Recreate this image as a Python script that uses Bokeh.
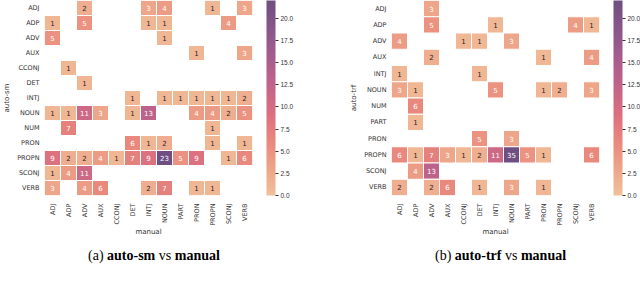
import numpy as np
from bokeh.plotting import figure
from bokeh.models import (ColumnDataSource, FactorRange, LinearColorMapper, ColorBar,
                          FixedTicker, PrintfTickFormatter, Div)
from bokeh.layouts import row, column
from bokeh.core.properties import value
from bokeh.embed import file_html
from bokeh.resources import INLINE

# ---------------- data ----------------
manual_tags = ["ADJ", "ADP", "ADV", "AUX", "CCONJ", "DET", "INTJ", "NOUN",
               "PART", "PRON", "PROPN", "SCONJ", "VERB"]

sm_rows = ["ADJ", "ADP", "ADV", "AUX", "CCONJ", "DET", "INTJ", "NOUN",
           "NUM", "PRON", "PROPN", "SCONJ", "VERB"]
sm_counts = [
    [0, 0, 2, 0, 0, 0, 3, 4, 0, 0, 1, 0, 3],
    [1, 0, 5, 0, 0, 0, 1, 1, 0, 0, 0, 4, 0],
    [5, 0, 0, 0, 0, 0, 0, 1, 0, 0, 0, 0, 0],
    [0, 0, 0, 0, 0, 0, 0, 0, 0, 1, 0, 0, 3],
    [0, 1, 0, 0, 0, 0, 0, 0, 0, 0, 0, 0, 0],
    [0, 0, 1, 0, 0, 0, 0, 0, 0, 0, 0, 0, 0],
    [0, 0, 0, 0, 0, 1, 0, 1, 1, 1, 1, 1, 2],
    [1, 1, 11, 3, 0, 1, 13, 0, 0, 4, 4, 2, 5],
    [0, 7, 0, 0, 0, 0, 0, 0, 0, 0, 1, 0, 0],
    [0, 0, 0, 0, 0, 6, 1, 2, 0, 0, 1, 0, 1],
    [9, 2, 2, 4, 1, 7, 9, 23, 5, 9, 0, 1, 6],
    [1, 4, 11, 0, 0, 0, 0, 0, 0, 0, 0, 0, 0],
    [3, 0, 4, 6, 0, 0, 2, 7, 0, 1, 1, 0, 0],
]

trf_rows = ["ADJ", "ADP", "ADV", "AUX", "INTJ", "NOUN", "NUM", "PART",
            "PRON", "PROPN", "SCONJ", "VERB"]
trf_counts = [
    [0, 0, 3, 0, 0, 0, 0, 0, 0, 0, 0, 0, 0],
    [0, 0, 5, 0, 0, 0, 1, 0, 0, 0, 0, 4, 1],
    [4, 0, 0, 0, 1, 1, 0, 3, 0, 0, 0, 0, 0],
    [0, 0, 2, 0, 0, 0, 0, 0, 0, 1, 0, 0, 4],
    [1, 0, 0, 0, 0, 1, 0, 0, 0, 0, 0, 0, 0],
    [3, 1, 0, 0, 0, 0, 5, 0, 0, 1, 2, 0, 3],
    [0, 6, 0, 0, 0, 0, 0, 0, 0, 0, 0, 0, 0],
    [0, 1, 0, 0, 0, 0, 0, 0, 0, 0, 0, 0, 0],
    [0, 0, 0, 0, 0, 5, 0, 3, 0, 0, 0, 0, 0],
    [6, 1, 7, 3, 1, 2, 11, 35, 5, 1, 0, 0, 6],
    [0, 4, 13, 0, 0, 0, 0, 0, 0, 0, 0, 0, 0],
    [2, 0, 2, 6, 0, 1, 0, 3, 0, 1, 0, 0, 0],
]

colorbar_ticks = [0.0, 2.5, 5.0, 7.5, 10.0, 12.5, 15.0, 17.5, 20.0]
vmax = 22.0

# ---------------- palette (flare-like, alpha 0.8 on white) ----------------
anchors = np.array([(237, 176, 129), (233, 141, 107), (227, 104, 92), (209, 74, 97),
                    (177, 60, 108), (143, 51, 113), (108, 43, 109), (75, 35, 98)], float)
apos = np.linspace(0, 1, len(anchors))
t = np.linspace(0, 1, 256)
raw = np.stack([np.interp(t, apos, anchors[:, k]) for k in range(3)], axis=1)
alpha = 0.8
blend = raw * alpha + 255 * (1 - alpha)
palette = ["#%02x%02x%02x" % tuple(int(round(c)) for c in rgb) for rgb in blend]


def lum(rgb):
    c = np.array(rgb) / 255.0
    c = np.where(c <= 0.03928, c / 12.92, ((c + 0.055) / 1.055) ** 2.4)
    return 0.2126 * c[0] + 0.7152 * c[1] + 0.0722 * c[2]


FONT = value("DejaVu Sans")


def panel(rows, counts, ylabel, border_left, border_right):
    xs, ys, vals, labels, tcols = [], [], [], [], []
    for r, rname in enumerate(rows):
        for c, cname in enumerate(manual_tags):
            v = counts[r][c]
            if v == 0:
                continue
            xs.append(cname)
            ys.append(rname)
            vals.append(v)
            labels.append(str(v))
            idx = int(round(min(v / vmax, 1.0) * 255))
            tcols.append("#262626" if lum(raw[idx]) > 0.408 else "white")
    src = ColumnDataSource(dict(x=xs, y=ys, v=vals, label=labels, tc=tcols))
    mapper = LinearColorMapper(palette=palette, low=0, high=vmax)

    p = figure(x_range=FactorRange(*manual_tags), y_range=FactorRange(*reversed(rows)),
               frame_width=208, frame_height=195, toolbar_location=None,
               output_backend="svg", min_border_left=border_left,
               min_border_right=border_right, min_border_top=0, min_border_bottom=46)
    p.rect(x="x", y="y", width=1, height=1, source=src,
           fill_color={"field": "v", "transform": mapper},
           line_color="white", line_width=1)
    p.text(x="x", y="y", text="label", source=src, text_color="tc",
           text_align="center", text_baseline="middle",
           text_font_size="7px", text_font=FONT)

    p.outline_line_color = None
    p.grid.grid_line_color = None
    for ax in (p.xaxis, p.yaxis):
        ax.axis_line_color = None
        ax.major_tick_line_color = None
        ax.minor_tick_line_color = None
        ax.major_tick_out = 0
        ax.major_tick_in = 0
        ax.minor_tick_out = 0
        ax.minor_tick_in = 0
        ax.major_label_text_font_size = "6.5px"
        ax.major_label_text_font = "DejaVu Sans"
        ax.major_label_text_color = "#333333"
        ax.axis_label_text_font_size = "7px"
        ax.axis_label_text_font = "DejaVu Sans"
        ax.axis_label_text_font_style = "normal"
        ax.axis_label_text_color = "#333333"
    p.xaxis.major_label_orientation = np.pi / 2
    p.xaxis.major_label_standoff = 8
    p.xaxis.axis_label = "manual"
    p.xaxis.axis_label_standoff = -1
    p.yaxis.major_label_standoff = 5
    p.yaxis.axis_label = ylabel
    p.yaxis.axis_label_standoff = 3

    cb = ColorBar(color_mapper=mapper, location=(222, 0), width=9, height=195,
                  padding=0, margin=0,
                  ticker=FixedTicker(ticks=colorbar_ticks),
                  formatter=PrintfTickFormatter(format="%.1f"),
                  major_label_text_font_size="6.5px", major_label_text_color="#333333",
                  major_tick_in=0, major_tick_out=3, major_tick_line_color="#333333",
                  minor_tick_line_color=None, bar_line_color=None,
                  border_line_color=None, background_fill_color=None,
                  label_standoff=2)
    p.add_layout(cb)
    return p


pa = panel(sm_rows, sm_counts, "auto-sm", 40, 50)
pb = panel(trf_rows, trf_counts, "auto-trf", 89, 45)

cap_font = ("font-family:'Liberation Serif','Times New Roman',serif;font-size:14px;"
            "line-height:16px;color:#000;white-space:nowrap;position:absolute;top:2px;")
caption_html = (
    '<div style="position:relative;width:640px;height:30px;">'
    '<span style="%sleft:83px;">(a) <b>auto-sm</b> vs <b>manual</b></span>'
    '<span style="%sleft:430px;">(b) <b>auto-trf</b> vs <b>manual</b></span>'
    '</div>' % (cap_font, cap_font)
)
captions = Div(text=caption_html, width=640, height=30)

layout = column(row(pa, pb), captions)

open("out.html", "w").write(file_html(layout, INLINE))
